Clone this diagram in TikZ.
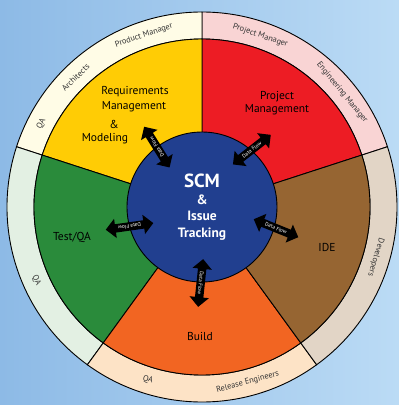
\documentclass[tikz,border=0pt]{standalone}
\usepackage{fontspec}
\setmainfont{PT Sans}
\usetikzlibrary{shapes.arrows}

\definecolor{bgleft}{HTML}{8DBAE6}
\definecolor{bgright}{HTML}{BBDBF5}
\definecolor{hubblue}{HTML}{213F8F}
\definecolor{reqyellow}{HTML}{FFCC05}
\definecolor{pmred}{HTML}{ED1C24}
\definecolor{idebrown}{HTML}{966532}
\definecolor{buildorange}{HTML}{F26522}
\definecolor{testgreen}{HTML}{2A8B3B}
\definecolor{reqring}{HTML}{FFFCE6}
\definecolor{pmring}{HTML}{F9D4D4}
\definecolor{idering}{HTML}{E2D5C6}
\definecolor{buildring}{HTML}{FDE3C6}
\definecolor{testring}{HTML}{E3F0E3}

\begin{document}
\begin{tikzpicture}[x=1pt,y=1pt,
	wedge/.style={draw=black, line width=0.9pt},
	area/.style={font=\fontsize{11.5}{13}\selectfont, text=black},
	role/.style={font=\fontsize{8.3}{9}\selectfont, text=black!80},
	flow/.style={double arrow, fill=black, text=white, font=\fontsize{5.3}{6}\selectfont,
		inner sep=2.1pt, minimum height=48pt, double arrow head extend=5.5pt}
	]
	\useasboundingbox[left color=bgleft, right color=bgright] (-202,-198) rectangle (197,207);

	% outer ring of roles
	\filldraw[wedge, fill=pmring] (18:195) arc (18:90:195) -- (90:168) arc (90:18:168) -- cycle;
	\filldraw[wedge, fill=reqring] (90:195) arc (90:162:195) -- (162:168) arc (162:90:168) -- cycle;
	\filldraw[wedge, fill=testring] (162:195) arc (162:234:195) -- (234:168) arc (234:162:168) -- cycle;
	\filldraw[wedge, fill=buildring] (234:195) arc (234:306:195) -- (306:168) arc (306:234:168) -- cycle;
	\filldraw[wedge, fill=idering] (306:195) arc (306:378:195) -- (378:168) arc (378:306:168) -- cycle;

	% sectors
	\filldraw[wedge, fill=pmred] (0,0) -- (18:168) arc (18:90:168) -- cycle;
	\filldraw[wedge, fill=reqyellow] (0,0) -- (90:168) arc (90:162:168) -- cycle;
	\filldraw[wedge, fill=testgreen] (0,0) -- (162:168) arc (162:234:168) -- cycle;
	\filldraw[wedge, fill=buildorange] (0,0) -- (234:168) arc (234:306:168) -- cycle;
	\filldraw[wedge, fill=idebrown] (0,0) -- (306:168) arc (306:378:168) -- cycle;

	% hub
	\node[circle, draw=black, line width=0.9pt, fill=hubblue, minimum size=150pt,
		text=white, align=center, font=\bfseries\fontsize{13.5}{16.5}\selectfont] (hub) at (0,0)
		{{\fontsize{19}{21}\selectfont SCM}\\ \&\\ Issue\\ Tracking};

	% sector labels
	\node[area] (reqa) at (-67,115) {Requirements};
	\node[area] (reqb) at (-68,100) {Management};
	\node[area] (reqc) at (-88,83) {\&};
	\node[area] (reqd) at (-97,68) {Modeling};
	\node[area, align=center] (pm) at (75,104) {Project\\Management};
	\node[area] (ide) at (125,-40) {IDE};
	\node[area] (build) at (-2,-129) {Build};
	\node[area] (test) at (-130,-30) {Test/QA};

	% roles
	\node[role, rotate=62.7] (qaa) at (152.7:181) {QA};
	\node[role, rotate=44.3] (arch) at (134.3:181) {Architects};
	\node[role, rotate=18.7] (prodmgr) at (108.7:181) {Product Manager};
	\node[role, rotate=-18.8] (projmgr) at (71.2:181) {Project Manager};
	\node[role, rotate=-50.7] (engmgr) at (39.3:181) {Engineering Manager};
	\node[role, rotate=-106.2] (dev) at (-16.2:181) {Developers};
	\node[role, rotate=14.6] (releng) at (-75.4:181) {Release Engineers};
	\node[role, rotate=-17.4] (qab) at (-107.4:181) {QA};
	\node[role, rotate=-66.1] (qac) at (203.9:181) {QA};

	% data flow
	\node[flow, rotate=122] (flowreq) at (127:75) {Data Flow};
	\node[flow, rotate=38] (flowpm) at (49:76) {Data Flow};
	\node[flow, rotate=-22] (flowide) at (-16:77) {Data Flow};
	\node[flow, rotate=-96] (flowbuild) at (-91:76) {Data Flow};
	\node[flow, rotate=188] (flowtest) at (195:75) {Data Flow};
\end{tikzpicture}
\end{document}
